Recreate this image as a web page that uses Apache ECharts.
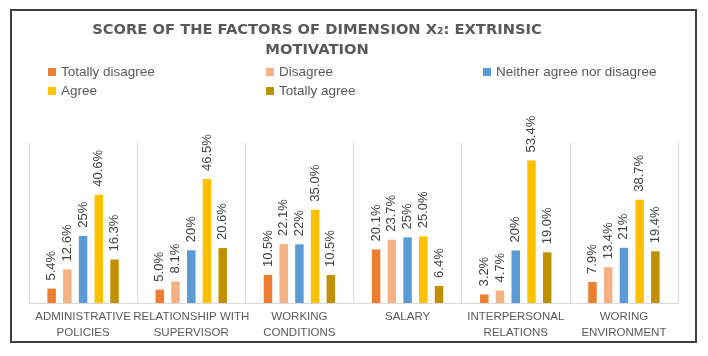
<!DOCTYPE html>
<html>
<head>
<meta charset="utf-8">
<script src="https://cdn.jsdelivr.net/npm/echarts@6/dist/echarts.min.js"></script>
<style>html,body{margin:0;padding:0;background:#fff;}#c{width:708px;height:356px;}</style>
</head>
<body>
<div id="c"></div>
<script>
const categories = ['ADMINISTRATIVE\nPOLICIES', 'RELATIONSHIP WITH\nSUPERVISOR', 'WORKING\nCONDITIONS', 'SALARY', 'INTERPERSONAL\nRELATIONS', 'WORING\nENVIRONMENT'];
const seriesNames = ['Totally disagree', 'Disagree', 'Neither agree nor disagree', 'Agree', 'Totally agree'];
const totallyDisagree = [5.4, 5.0, 10.5, 20.1, 3.2, 7.9];
const disagree = [12.6, 8.1, 22.1, 23.7, 4.7, 13.4];
const neither = [25.2, 19.8, 22.0, 24.6, 19.7, 20.7];
const agree = [40.6, 46.5, 35.0, 25.0, 53.4, 38.7];
const totallyAgree = [16.3, 20.6, 10.5, 6.4, 19.0, 19.4];
const labelDecimals = [1, 1, 0, 1, 1];
const colors = ['#ED7D31', '#F4B183', '#5B9BD5', '#FFC000', '#BF9000'];

const allData = [totallyDisagree, disagree, neither, agree, totallyAgree];
const FONT = 'Liberation Sans';
const legendPos = [[48, 65], [266, 65], [483, 65], [48, 84], [266, 84]];

const chart = echarts.init(document.getElementById('c'), null, {renderer: 'canvas'});
const option = {
  animation: false,
  backgroundColor: '#fff',
  color: colors,
  title: {
    text: 'SCORE OF THE FACTORS OF DIMENSION X₂: EXTRINSIC\nMOTIVATION',
    left: 312,
    top: 15,
    textAlign: 'center',
    textStyle: {fontFamily: 'DejaVu Sans', fontSize: 14.7, fontWeight: 'bold', color: '#595959', lineHeight: 20}
  },
  legend: seriesNames.map((n, i) => ({
    data: [n],
    left: legendPos[i][0],
    top: legendPos[i][1],
    padding: 0,
    itemWidth: 8,
    itemHeight: 8,
    icon: 'rect',
    textStyle: {fontFamily: FONT, fontSize: 13.5, color: '#595959'}
  })),
  grid: {left: 29, right: 30, top: 143, bottom: 53, containLabel: false},
  xAxis: {
    type: 'category',
    data: categories,
    axisLine: {lineStyle: {color: '#d9d9d9', width: 1}},
    axisTick: {show: false},
    splitLine: {show: true, lineStyle: {color: '#d9d9d9', width: 1}},
    axisLabel: {interval: 0, fontFamily: FONT, fontSize: 11.5, color: '#595959', lineHeight: 16, margin: 6}
  },
  yAxis: {
    type: 'value', min: 0, max: 60, show: false, splitLine: {show: false}
  },
  graphic: [{
    type: 'rect', shape: {x: 11, y: 10, width: 685, height: 332},
    style: {fill: 'none', stroke: '#3f3f3f', lineWidth: 2}, silent: true, z: 100
  }],
  series: allData.map((d, i) => ({
    name: seriesNames[i],
    type: 'bar',
    data: d,
    barWidth: 8.5,
    barGap: '85%',
    itemStyle: {color: colors[i]},
    label: {
      show: true,
      position: 'top',
      rotate: 90,
      align: 'left',
      verticalAlign: 'middle',
      distance: 8,
      fontFamily: FONT,
      fontSize: 13,
      color: '#404040',
      formatter: p => p.value.toFixed(labelDecimals[i]) + '%'
    }
  }))
};
chart.setOption(option);
</script>
</body>
</html>
